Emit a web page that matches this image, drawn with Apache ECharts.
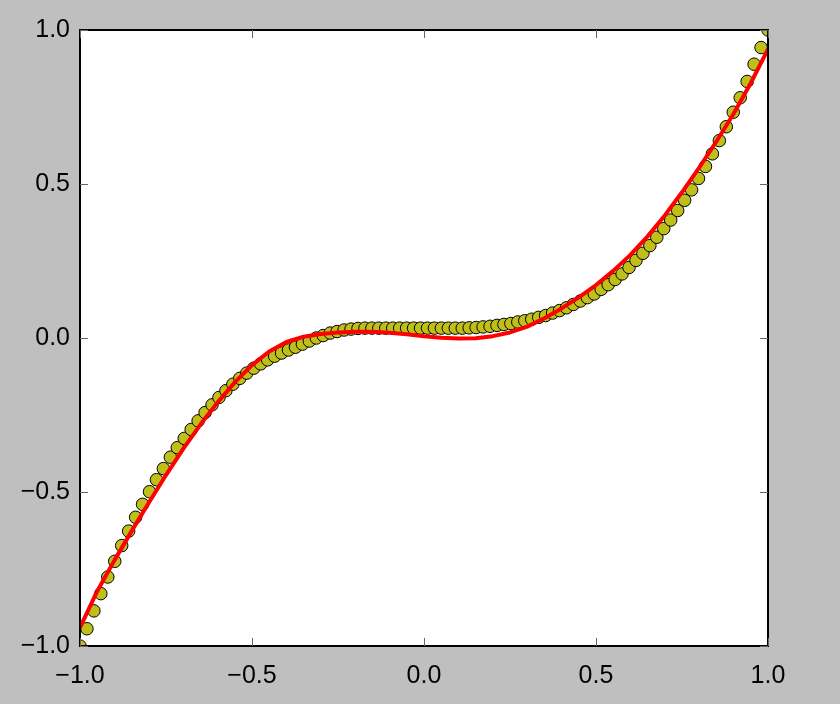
<!DOCTYPE html>
<html><head><meta charset="utf-8">
<script src="https://cdn.jsdelivr.net/npm/echarts@6/dist/echarts.min.js"></script>
<style>html,body{margin:0;padding:0;background:#bfbfbf}#c{width:840px;height:704px}</style>
</head><body><div id="c"></div><script>
const pointX = [-1.0000, -0.9798, -0.9596, -0.9394, -0.9192, -0.8990, -0.8788, -0.8586, -0.8384, -0.8182,
  -0.7980, -0.7778, -0.7576, -0.7374, -0.7172, -0.6970, -0.6768, -0.6566, -0.6364, -0.6162,
  -0.5960, -0.5758, -0.5556, -0.5354, -0.5152, -0.4949, -0.4747, -0.4545, -0.4343, -0.4141,
  -0.3939, -0.3737, -0.3535, -0.3333, -0.3131, -0.2929, -0.2727, -0.2525, -0.2323, -0.2121,
  -0.1919, -0.1717, -0.1515, -0.1313, -0.1111, -0.0909, -0.0707, -0.0505, -0.0303, -0.0101,
  0.0101, 0.0303, 0.0505, 0.0707, 0.0909, 0.1111, 0.1313, 0.1515, 0.1717, 0.1919,
  0.2121, 0.2323, 0.2525, 0.2727, 0.2929, 0.3131, 0.3333, 0.3535, 0.3737, 0.3939,
  0.4141, 0.4343, 0.4545, 0.4747, 0.4949, 0.5152, 0.5354, 0.5556, 0.5758, 0.5960,
  0.6162, 0.6364, 0.6566, 0.6768, 0.6970, 0.7172, 0.7374, 0.7576, 0.7778, 0.7980,
  0.8182, 0.8384, 0.8586, 0.8788, 0.8990, 0.9192, 0.9394, 0.9596, 0.9798, 1.0000];
const pointY = [-1.000, -0.944, -0.886, -0.830, -0.776, -0.725, -0.674, -0.627, -0.582, -0.540,
  -0.499, -0.460, -0.424, -0.387, -0.356, -0.326, -0.297, -0.269, -0.242, -0.217,
  -0.193, -0.171, -0.150, -0.131, -0.114, -0.098, -0.084, -0.071, -0.059, -0.049,
  -0.039, -0.030, -0.020, -0.010, 0.000, 0.008, 0.016, 0.021, 0.026, 0.029,
  0.031, 0.032, 0.032, 0.032, 0.032, 0.032, 0.032, 0.032, 0.032, 0.032,
  0.032, 0.032, 0.032, 0.032, 0.032, 0.032, 0.033, 0.034, 0.036, 0.038,
  0.041, 0.044, 0.047, 0.052, 0.056, 0.061, 0.067, 0.073, 0.081, 0.089,
  0.098, 0.109, 0.120, 0.131, 0.143, 0.158, 0.173, 0.190, 0.208, 0.229,
  0.252, 0.275, 0.300, 0.327, 0.355, 0.383, 0.414, 0.447, 0.481, 0.518,
  0.557, 0.598, 0.641, 0.686, 0.733, 0.780, 0.833, 0.889, 0.943, 1.000];
const fitX = [-1.00, -0.95, -0.90, -0.85, -0.80, -0.75, -0.70, -0.65, -0.60, -0.55,
  -0.50, -0.45, -0.40, -0.35, -0.30, -0.25, -0.20, -0.15, -0.10, -0.05,
  0.00, 0.05, 0.10, 0.15, 0.20, 0.25, 0.30, 0.35, 0.40, 0.45,
  0.50, 0.55, 0.60, 0.65, 0.70, 0.75, 0.80, 0.85, 0.90, 0.95, 1.00];
const fitY = [-0.940, -0.822, -0.722, -0.627, -0.535, -0.445, -0.360, -0.281, -0.209, -0.144,
  -0.088, -0.044, -0.013, 0.004, 0.013, 0.018, 0.020, 0.020, 0.017, 0.012,
  0.006, 0.001, -0.002, -0.001, 0.006, 0.018, 0.037, 0.064, 0.096, 0.132,
  0.172, 0.218, 0.270, 0.330, 0.398, 0.473, 0.553, 0.638, 0.728, 0.828, 0.938];
const axisMin = -1, axisMax = 1, tickStep = 0.5;

const W = 840, H = 704, GL = 80, GR = 72, GT = 30, GB = 58;
const BG = '#bfbfbf';
const fmt = v => (v < 0 ? '\u2212' : '') + Math.abs(v).toFixed(1);
const labelFont = {fontSize: 25, color: '#000', fontFamily: 'Liberation Sans, Arial, sans-serif'};
const tick = {show: true, inside: true, length: 8, lineStyle: {color: '#666', width: 1}};
function axis(pos, withLabels, margin) {
  return {type: 'value', min: axisMin, max: axisMax, interval: tickStep, position: pos, z: 10,
    axisLine: {show: false, onZero: false}, axisTick: tick, splitLine: {show: false},
    axisLabel: withLabels ? Object.assign({show: true, margin: margin, formatter: fmt}, labelFont) : {show: false}};
}
const chart = echarts.init(document.getElementById('c'), null, {renderer: 'canvas'});
chart.setOption({
  animation: false,
  backgroundColor: BG,
  grid: {left: GL, right: GR, top: GT, bottom: GB, show: true, backgroundColor: '#fff', borderWidth: 0},
  xAxis: [axis('bottom', true, 18), axis('top', false)],
  yAxis: [axis('left', true, 10), axis('right', false)],
  graphic: [
    {type: 'rect', z: 5, silent: true, shape: {x: 0, y: 0, width: W, height: GT}, style: {fill: BG}},
    {type: 'rect', z: 5, silent: true, shape: {x: 0, y: H - GB, width: W, height: GB}, style: {fill: BG}},
    {type: 'rect', z: 5, silent: true, shape: {x: 0, y: 0, width: GL, height: H}, style: {fill: BG}},
    {type: 'rect', z: 5, silent: true, shape: {x: W - GR, y: 0, width: GR, height: H}, style: {fill: BG}},
    {type: 'rect', z: 6, silent: true, shape: {x: GL, y: GT, width: W - GL - GR, height: H - GT - GB},
     style: {fill: null, stroke: '#000', lineWidth: 2}}
  ],
  series: [
    {type: 'scatter', xAxisIndex: 0, yAxisIndex: 0, symbol: 'circle', symbolSize: 12.5,
     itemStyle: {color: '#bfbf1a', borderColor: '#000', borderWidth: 1, opacity: 1},
     data: pointX.map((x, i) => [x, pointY[i]]), z: 2},
    {type: 'line', xAxisIndex: 0, yAxisIndex: 0, showSymbol: false, smooth: false,
     lineStyle: {color: '#ff0000', width: 4}, data: fitX.map((x, i) => [x, fitY[i]]), z: 3}
  ]
});
</script></body></html>
